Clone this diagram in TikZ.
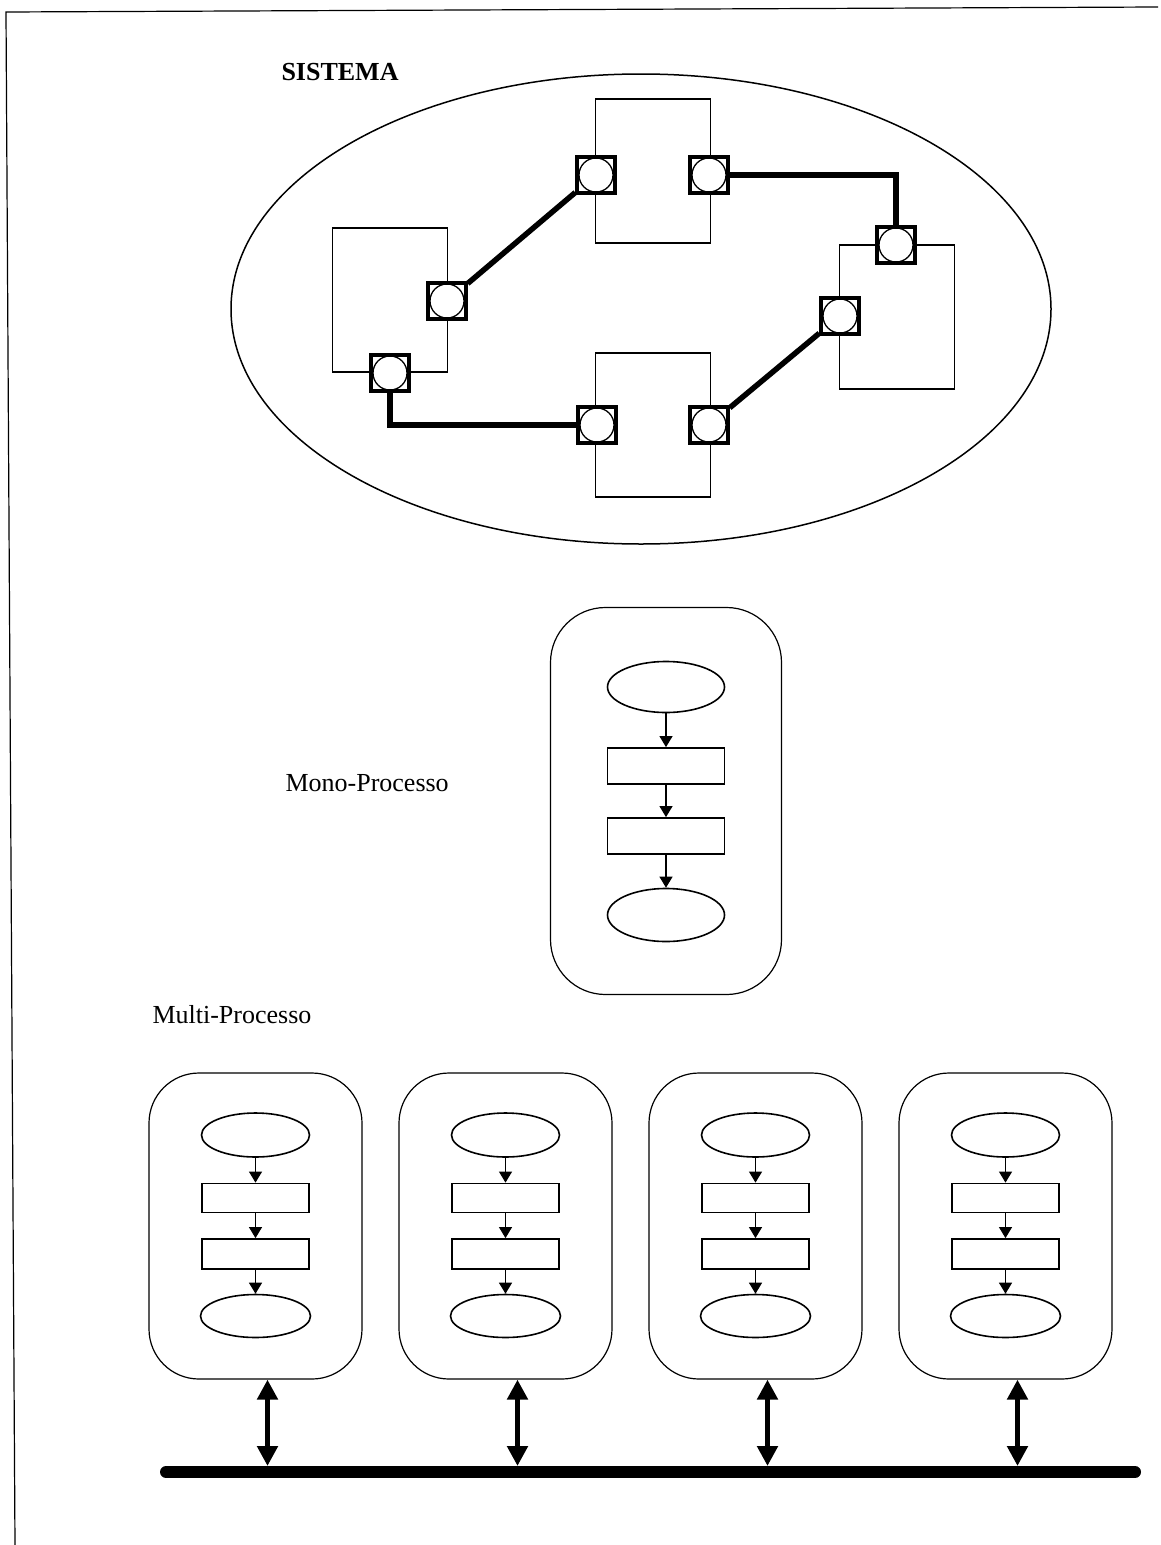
\documentclass[tikz,border=0pt]{standalone}
\usepackage{fontspec}
\setmainfont{Liberation Serif}
\usetikzlibrary{arrows.meta,positioning,shapes.geometric}

\begin{document}
\begin{tikzpicture}[
    x=1pt, y=-1pt,
    every node/.style={font=\fontsize{26}{30}\selectfont},
    frame/.style={line width=1.2pt},
    comp/.style={rectangle, draw, line width=1.1pt, minimum width=115pt, minimum height=144pt, inner sep=0pt},
    port/.style={rectangle, draw, line width=3.5pt, fill=white, minimum width=38pt, minimum height=36pt, inner sep=0pt,
                 path picture={\draw[line width=1.3pt, fill=white] (path picture bounding box.center) circle (17pt);}},
    conn/.style={line width=5.5pt},
    proc/.style={rectangle, draw, line width=1.2pt, rounded corners=55pt},
    ev/.style={ellipse, draw, line width=1.6pt, inner sep=0pt},
    act/.style={rectangle, draw, line width=1.8pt, inner sep=0pt},
    flow/.style={-{Triangle[length=11pt, width=13pt]}, line width=1.1pt},
    busarr/.style={{Triangle[length=20pt, width=20pt]}-{Triangle[length=20pt, width=20pt]}, line width=5pt},
  ]
  \useasboundingbox (0,0) rectangle (1160,1545);
  % page frame
  \draw[frame] (15,1545) -- (6,12) -- (1158,7);

  % sistema
  \node[anchor=west, font=\fontsize{26}{30}\selectfont\bfseries] (tsis) at (278,72) {SISTEMA};
  \node[ellipse, draw, line width=1.5pt, minimum width=820pt, minimum height=470pt] (sis) at (641,309) {};

  \node[comp] (cT) at (653,171) {};
  \node[comp] (cL) at (390,300) {};
  \node[comp] (cR) at (897,317) {};
  \node[comp] (cB) at (653,425) {};

  \node[port] (pTl) at (596,175) {};
  \node[port] (pTr) at (709,175) {};
  \node[port] (pLr) at (447,301) {};
  \node[port] (pLb) at (390,373) {};
  \node[port] (pRt) at (896,245) {};
  \node[port] (pRl) at (840,316) {};
  \node[port] (pBl) at (597,425) {};
  \node[port] (pBr) at (709,425) {};

  \draw[conn] (pLr) -- (pTl);
  \draw[conn] (pTr) -| (pRt);
  \draw[conn] (pRl) -- (pBr);
  \draw[conn] (pLb) |- (pBl);

  % mono-processo
  \node[anchor=west] (tmono) at (282,783) {Mono-Processo};
  \node[proc, minimum width=231pt, minimum height=387pt] (mono) at (666,801) {};
  \node[ev, minimum width=117pt, minimum height=51pt] (mo1) at (666,687) {};
  \node[act, minimum width=117pt, minimum height=36pt] (mo2) at (666,766) {};
  \node[act, minimum width=117pt, minimum height=36pt] (mo3) at (666,836) {};
  \node[ev, minimum width=117pt, minimum height=53pt] (mo4) at (666,915) {};
  \draw[flow] (mo1) -- (mo2);
  \draw[flow] (mo2) -- (mo3);
  \draw[flow] (mo3) -- (mo4);

  % multi-processo
  \node[anchor=west] (tmulti) at (149,1015) {Multi-Processo};
  \coordinate (busL) at (166,1472);
  \coordinate (busR) at (1135,1472);
  \draw[line width=12pt, line cap=round] (busL) -- (busR);

  \foreach \i in {0,...,3} {
    \node[proc, minimum width=213pt, minimum height=306pt, rounded corners=50pt] (m\i) at (255.5+250*\i,1226) {};
    \node[ev, minimum width=108pt, minimum height=44pt] (m\i a) at (255.5+250*\i,1135) {};
    \node[act, minimum width=107pt, minimum height=29pt] (m\i b) at (255.5+250*\i,1198) {};
    \node[act, minimum width=107pt, minimum height=30pt] (m\i c) at (255.5+250*\i,1254) {};
    \node[ev, minimum width=110pt, minimum height=43pt] (m\i d) at (255.5+250*\i,1316) {};
    \draw[flow] (m\i a) -- (m\i b);
    \draw[flow] (m\i b) -- (m\i c);
    \draw[flow] (m\i c) -- (m\i d);
    \coordinate (t\i) at ([xshift=12pt]m\i.south);
    \coordinate (u\i) at ([yshift=6pt]t\i |- busL);
    \draw[busarr] (t\i) -- (u\i);
  }
\end{tikzpicture}
\end{document}
